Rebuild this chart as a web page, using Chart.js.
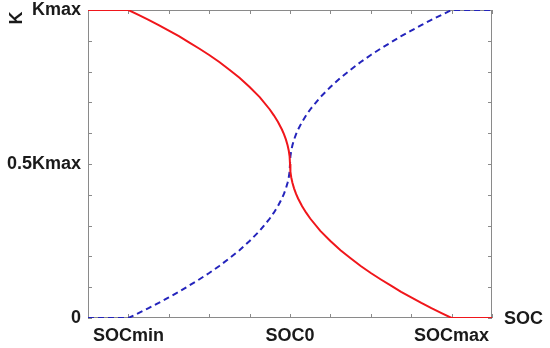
<!DOCTYPE html>
<html>
<head>
<meta charset="utf-8">
<script src="https://cdn.jsdelivr.net/npm/chart.js@4/dist/chart.umd.min.js"></script>
<style>
html,body{margin:0;padding:0;background:#fff;}
#wrap{width:550px;height:348px;}
</style>
</head>
<body>
<div id="wrap"><canvas id="c" width="550" height="348"></canvas></div>
<script>
// SOC positions (0..10 axis units; SOCmin=1, SOC0=5, SOCmax=9)
const socValues = [0, 1, 1.25, 1.5, 1.75, 2, 2.25, 2.5, 2.75, 3, 3.25, 3.5, 3.75, 4, 4.25, 4.5, 4.6, 4.7, 4.8, 4.85, 4.9, 4.94, 4.97, 4.99, 5,
                   5.01, 5.03, 5.06, 5.1, 5.15, 5.2, 5.3, 5.4, 5.5, 5.75, 6, 6.25, 6.5, 6.75, 7, 7.25, 7.5, 7.75, 8, 8.25, 8.5, 8.75, 9, 10];
// K as fraction of Kmax
const redK  = [1, 1, 0.984, 0.968, 0.951, 0.933, 0.915, 0.895, 0.875, 0.854, 0.831, 0.806, 0.780, 0.75, 0.717, 0.677, 0.658, 0.637, 0.612, 0.597, 0.579, 0.561, 0.543, 0.525, 0.5,
               0.475, 0.457, 0.439, 0.421, 0.403, 0.388, 0.363, 0.342, 0.323, 0.283, 0.25, 0.220, 0.194, 0.169, 0.146, 0.125, 0.105, 0.085, 0.067, 0.049, 0.032, 0.016, 0, 0];
const blueK = [0, 0, 0.016, 0.032, 0.049, 0.067, 0.085, 0.105, 0.125, 0.146, 0.169, 0.194, 0.220, 0.25, 0.283, 0.323, 0.342, 0.363, 0.388, 0.403, 0.421, 0.439, 0.457, 0.475, 0.5,
               0.525, 0.543, 0.561, 0.579, 0.597, 0.612, 0.637, 0.658, 0.677, 0.717, 0.75, 0.780, 0.806, 0.831, 0.854, 0.875, 0.895, 0.915, 0.933, 0.951, 0.968, 0.984, 1, 1];
const xTickPositions = [1, 5, 9];
const xTickLabels = ['SOCmin', 'SOC0', 'SOCmax'];
const yTickPositions = [0, 0.5, 1];
const yTickLabels = ['0', '0.5Kmax', 'Kmax'];
const xAxisTitle = 'SOC';
const yAxisTitle = 'K';

const FONT = 'Liberation Sans, Arial, sans-serif';
const toPts = (ys) => socValues.map((x, i) => ({x: x, y: ys[i]}));

const boxPlugin = {
  id: 'box',
  beforeDatasetsDraw(chart) {
    const {ctx, chartArea: a, scales: {x, y}} = chart;
    ctx.save();
    ctx.strokeStyle = '#8a8a8a';
    ctx.lineWidth = 1;
    ctx.beginPath();
    ctx.rect(a.left + 0.5, a.top + 0.5, a.right - a.left - 1, a.bottom - a.top - 1);
    ctx.stroke();
    ctx.beginPath();
    for (let v = 0; v <= 10; v++) {
      const px = Math.round(x.getPixelForValue(v)) + 0.5;
      ctx.moveTo(px, a.bottom); ctx.lineTo(px, a.bottom - 4);
      ctx.moveTo(px, a.top); ctx.lineTo(px, a.top + 4);
    }
    for (let k = 0; k <= 10; k++) {
      const py = Math.round(y.getPixelForValue(k / 10)) + 0.5;
      ctx.moveTo(a.left, py); ctx.lineTo(a.left + 4, py);
      ctx.moveTo(a.right, py); ctx.lineTo(a.right - 4, py);
    }
    ctx.stroke();
    ctx.restore();
  },
  afterDraw(chart) {
    const {ctx, chartArea: a} = chart;
    ctx.save();
    ctx.fillStyle = '#1a1a1a';
    ctx.font = 'bold 18px ' + FONT;
    ctx.textBaseline = 'middle';
    ctx.textAlign = 'left';
    ctx.fillText(xAxisTitle, a.right + 12, a.bottom + 1);
    ctx.translate(17, a.top + 8);
    ctx.rotate(-Math.PI / 2);
    ctx.textAlign = 'center';
    ctx.fillText(yAxisTitle, 0, 0);
    ctx.restore();
  }
};

new Chart(document.getElementById('c'), {
  type: 'line',
  data: {
    datasets: [
      {data: toPts(redK), borderColor: '#f0161b', borderWidth: 2, pointRadius: 0, tension: 0, fill: false},
      {data: toPts(blueK), borderColor: '#2424bc', borderWidth: 2, borderDash: [6, 4], pointRadius: 0, tension: 0, fill: false}
    ]
  },
  options: {
    responsive: false,
    animation: false,
    devicePixelRatio: 1,
    layout: {padding: {top: 10, right: 58, bottom: 0, left: 0}},
    plugins: {legend: {display: false}, tooltip: {enabled: false}},
    scales: {
      x: {
        type: 'linear', min: 0, max: 10,
        afterFit(s) { s.height = 30; s.paddingLeft = 0; s.paddingRight = 0; },
        afterBuildTicks(s) { s.ticks = xTickPositions.map(v => ({value: v})); },
        grid: {display: false, drawTicks: false},
        border: {display: false},
        ticks: {
          autoSkip: false, maxRotation: 0, padding: 7, color: '#1a1a1a',
          font: {family: FONT, size: 18, weight: 'bold'},
          callback: (v) => { const i = xTickPositions.indexOf(v); return i >= 0 ? xTickLabels[i] : ''; }
        }
      },
      y: {
        type: 'linear', min: 0, max: 1,
        afterFit(s) { s.width = 88; s.paddingTop = 0; s.paddingBottom = 0; },
        afterBuildTicks(s) { s.ticks = yTickPositions.map(v => ({value: v})); },
        grid: {display: false, drawTicks: false},
        border: {display: false},
        ticks: {
          autoSkip: false, padding: 7, color: '#1a1a1a',
          font: {family: FONT, size: 18, weight: 'bold'},
          callback: (v) => { const i = yTickPositions.indexOf(v); return i >= 0 ? yTickLabels[i] : ''; }
        }
      }
    }
  },
  plugins: [boxPlugin]
});
</script>
</body>
</html>
